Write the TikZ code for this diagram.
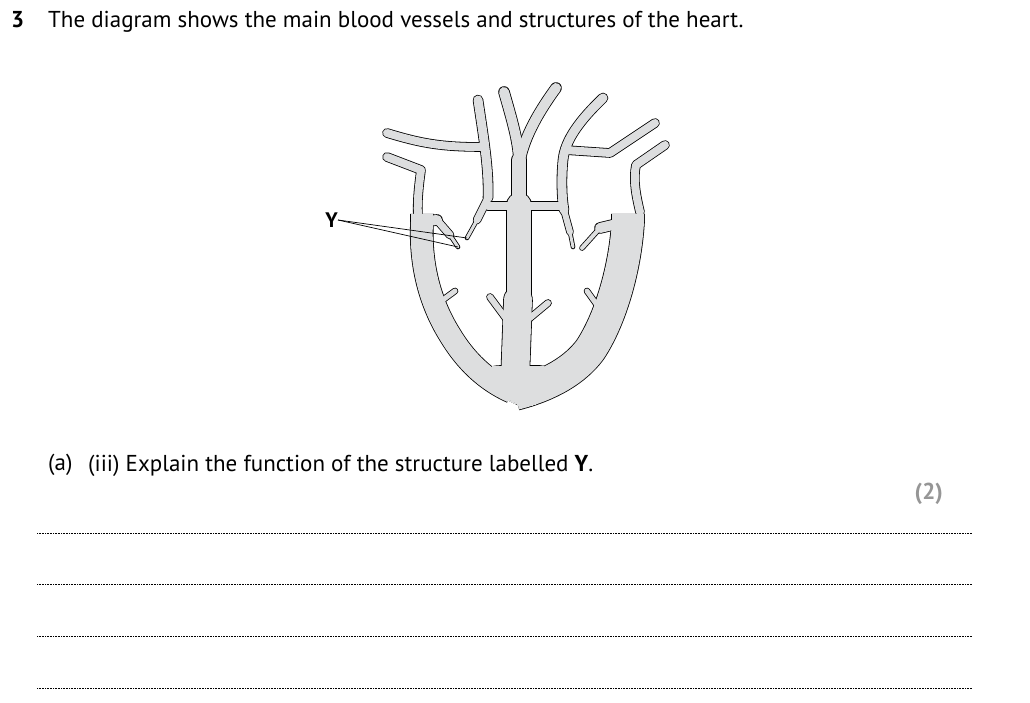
\documentclass[tikz,border=0pt]{standalone}
\usepackage{fontspec}
\setmainfont{PT Sans}
\definecolor{hg}{RGB}{221,222,223}
\definecolor{markgray}{RGB}{150,150,150}
\newcommand\Vessels[2]{%
\begin{scope}[#2,line cap=round,line join=round]
\draw[line width=22pt+#1,line cap=butt] (422,214) -- (422,222) .. controls (420,260) and (428,300) .. (450,335) .. controls (465,360) and (485,380) .. (512,392);
\draw[line width=32pt+#1,line cap=butt] (628,214) -- (628,222) .. controls (625,270) and (610,320) .. (590,350) .. controls (575,370) and (550,385) .. (515,394);
\filldraw[line width=#1,rounded corners=8pt] (478,372) -- (492,390) -- (512,402) -- (527,408) -- (548,398) -- (562,384) -- (548,366) -- (492,366) -- cycle;
\draw[line width=8pt+#1] (387,157) -- (421,170) .. controls (419,185) and (417,200) .. (418,218);
\draw[line width=10pt+#1] (418,222) -- (437,220);
\draw[line width=7pt+#1] (437,220) -- (450,235);
\draw[line width=3pt+#1] (450,235) -- (458,247);
\draw[line width=8pt+#1] (387,133) .. controls (420,143) and (440,147) .. (482,147);
\draw[line width=9pt+#1] (478,100) .. controls (484,140) and (489,170) .. (488,198);
\draw[line width=7pt+#1] (488,198) -- (477,220);
\draw[line width=3pt+#1] (477,220) -- (467,238);
\draw[line width=8pt+#1] (488,206) -- (510,206);
\draw[line width=8pt+#1] (530,206) -- (562,206);
\draw[line width=10pt+#1] (504,92) .. controls (512,120) and (518,140) .. (519,160);
\draw[line width=10pt+#1] (556,88) .. controls (540,110) and (525,135) .. (520,160);
\draw[line width=14pt+#1] (519,160) -- (519,205);
\draw[line width=24pt+#1] (519,205) -- (519,300);
\draw[line width=28pt+#1] (518,300) -- (515,380);
\draw[line width=9pt+#1] (603,98) .. controls (580,120) and (565,140) .. (563,160) .. controls (561,180) and (562,200) .. (564,210);
\draw[line width=6pt+#1] (564,210) -- (570,232);
\draw[line width=3pt+#1] (570,232) -- (573,247);
\draw[line width=8pt+#1] (565,150) -- (610,153) -- (655,123);
\draw[line width=8pt+#1] (665,145) -- (636,165) .. controls (633,180) and (636,195) .. (640,212);
\draw[line width=10pt+#1] (625,222) -- (600,228);
\draw[line width=4pt+#1] (600,228) -- (582,248);
\draw[line width=5pt+#1] (440,302) -- (455,291);
\draw[line width=5pt+#1] (597,305) -- (587,291);
\draw[line width=6pt+#1] (507,320) -- (490,297);
\draw[line width=6pt+#1] (530,318) -- (548,303);
\end{scope}}
\begin{document}
\begin{tikzpicture}[x=1pt,y=-1pt,
  q/.style={anchor=base west,inner sep=0pt,font=\fontsize{23}{27}\selectfont},
  ans/.style={densely dotted,line width=0.6pt}]
\useasboundingbox[fill=white] (0,0) rectangle (1030,703);
\node[q] (num) at (11,28) {\textbf{3}};
\node[q] (title) at (48,28) {The diagram shows the main blood vessels and structures of the heart.};
\Vessels{1.6pt}{black}
\Vessels{0pt}{hg}
\node[anchor=east,inner sep=0pt,font=\fontsize{21}{24}\selectfont\bfseries] (Y) at (338,220) {Y};
\coordinate (y1) at (458,247);
\coordinate (y2) at (467,238);
\draw[line width=0.7pt] (Y.east) -- (y1);
\draw[line width=0.7pt] (Y.east) -- (y2);
\node[q] (a) at (48,470) {(a)};
\node[q] (iii) at (88,471) {(iii) Explain the function of the structure labelled \textbf{Y}.};
\node[q,text=markgray,anchor=base east] (mk) at (943,499) {\textbf{(2)}};
\foreach \yy in {533,584,636,688}
  \draw[ans] (37,\yy) -- (972,\yy);
\end{tikzpicture}
\end{document}
